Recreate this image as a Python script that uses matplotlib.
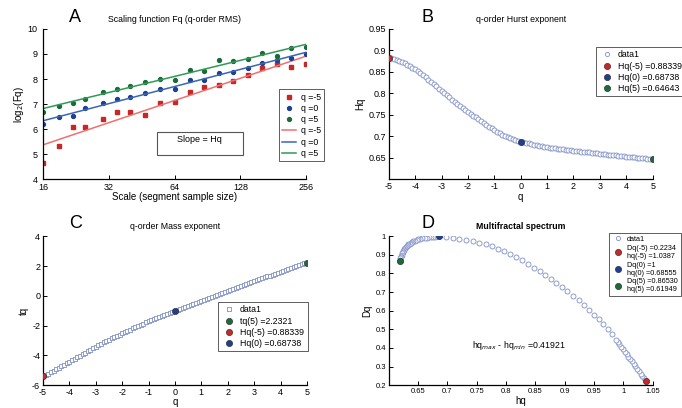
"""Multifractal DFA summary figure: scaling function, Hurst exponent, mass exponent, spectrum."""

import matplotlib
matplotlib.use("Agg")
import matplotlib.pyplot as plt
import numpy as np
from matplotlib.lines import Line2D
from matplotlib.patches import Rectangle

plt.rcParams["font.family"] = ["Liberation Sans", "DejaVu Sans"]
plt.rcParams["axes.unicode_minus"] = False  # plain hyphen minus, like the original

# ---- panel A: scaling function ----
scales = [16, 19, 22, 25, 30, 35, 40, 47, 55, 64, 75, 87, 102, 118, 138, 161, 188, 219, 256]
logfq_qm5 = [4.65, 5.32, 6.10, 6.10, 6.40, 6.67, 6.68, 6.57, 7.05, 7.08, 7.47, 7.70, 7.75,
             7.93, 8.17, 8.43, 8.60, 8.47, 8.60]
logfq_q0 = [6.20, 6.47, 6.52, 6.83, 7.03, 7.20, 7.30, 7.43, 7.60, 7.60, 7.97, 7.97, 8.23,
            8.30, 8.44, 8.64, 8.77, 8.84, 9.00]
logfq_q5 = [6.70, 6.93, 7.03, 7.20, 7.50, 7.60, 7.73, 7.90, 8.00, 7.97, 8.37, 8.34, 8.77,
            8.70, 8.80, 9.04, 8.90, 9.24, 9.28]

# ---- panel B / C: Hurst and mass exponents over q ----
q = np.linspace(-5, 5, 101)
hurst = [0.8834, 0.8816, 0.8796, 0.8774, 0.8750, 0.8724, 0.8696, 0.8666, 0.8634, 0.8600,
         0.8564, 0.8519, 0.8471, 0.8421, 0.8370, 0.8318, 0.8265, 0.8212, 0.8159, 0.8106,
         0.8054, 0.8003, 0.7953, 0.7904, 0.7855, 0.7807, 0.7759, 0.7712, 0.7665, 0.7619,
         0.7573, 0.7527, 0.7482, 0.7438, 0.7394, 0.7351, 0.7308, 0.7266, 0.7224, 0.7183,
         0.7143, 0.7105, 0.7069, 0.7036, 0.7005, 0.6977, 0.6952, 0.6929, 0.6908, 0.6890,
         0.6874, 0.6859, 0.6845, 0.6831, 0.6818, 0.6805, 0.6792, 0.6780, 0.6768, 0.6756,
         0.6744, 0.6735, 0.6727, 0.6719, 0.6711, 0.6703, 0.6695, 0.6687, 0.6679, 0.6671,
         0.6664, 0.6657, 0.6650, 0.6642, 0.6635, 0.6628, 0.6621, 0.6613, 0.6606, 0.6599,
         0.6592, 0.6585, 0.6579, 0.6572, 0.6566, 0.6559, 0.6552, 0.6546, 0.6539, 0.6533,
         0.6526, 0.6520, 0.6514, 0.6508, 0.6501, 0.6495, 0.6489, 0.6483, 0.6477, 0.6470,
         0.6464]
mass = [-5.417, -5.320, -5.222, -5.124, -5.025, -4.926, -4.826, -4.726, -4.626, -4.526,
        -4.426, -4.322, -4.219, -4.116, -4.013, -3.911, -3.810, -3.710, -3.611, -3.513,
        -3.416, -3.321, -3.227, -3.134, -3.042, -2.952, -2.862, -2.774, -2.686, -2.600,
        -2.515, -2.430, -2.347, -2.264, -2.183, -2.103, -2.023, -1.945, -1.867, -1.790,
        -1.714, -1.639, -1.566, -1.493, -1.420, -1.349, -1.278, -1.208, -1.138, -1.069,
        -1.000, -0.931, -0.863, -0.795, -0.727, -0.660, -0.592, -0.525, -0.459, -0.392,
        -0.326, -0.259, -0.193, -0.127, -0.060, 0.005, 0.071, 0.137, 0.202, 0.267,
        0.333, 0.398, 0.463, 0.528, 0.592, 0.657, 0.721, 0.786, 0.850, 0.914,
        0.978, 1.041, 1.105, 1.169, 1.232, 1.296, 1.359, 1.422, 1.485, 1.548,
        1.610, 1.673, 1.736, 1.798, 1.860, 1.923, 1.985, 2.047, 2.109, 2.170,
        2.232]

# ---- panel D: multifractal spectrum ----
spec_hq = [1.03870, 1.0357, 1.0326, 1.0296, 1.0266, 1.0236, 1.0205, 1.0175, 1.0145, 1.0115,
           1.0085, 1.0054, 1.0024, 0.9994, 0.9964, 0.9933, 0.9903, 0.9873, 0.9799, 0.9731,
           0.9656, 0.9582, 0.9497, 0.9417, 0.9325, 0.9240, 0.9143, 0.9046, 0.8954, 0.8857,
           0.8772, 0.8669, 0.8572, 0.8475, 0.8372, 0.8275, 0.8172, 0.8070, 0.7973, 0.7858,
           0.7761, 0.7659, 0.7545, 0.7430, 0.7316, 0.7202, 0.7088, 0.6974, 0.68555,
           0.6820, 0.6785, 0.6750, 0.6715, 0.6680, 0.6645, 0.6610, 0.6575, 0.6540, 0.6507,
           0.6476, 0.6447, 0.6420, 0.6396, 0.6374, 0.6354, 0.6336, 0.6320, 0.6305, 0.6291,
           0.6278, 0.6266, 0.6255, 0.6245, 0.6236, 0.6227, 0.6219, 0.6211, 0.6204, 0.6199,
           0.6196, 0.61949]
spec_dq = [0.2234, 0.2364, 0.2495, 0.2625, 0.2756, 0.2886, 0.3017, 0.3147, 0.3278, 0.3408,
           0.3539, 0.3669, 0.3800, 0.3930, 0.4061, 0.4191, 0.4322, 0.4452, 0.4739, 0.5007,
           0.5276, 0.5544, 0.5795, 0.6063, 0.6296, 0.6565, 0.6797, 0.7048, 0.7281, 0.7495,
           0.7728, 0.7925, 0.8140, 0.8319, 0.8534, 0.8713, 0.8892, 0.9071, 0.9214, 0.9339,
           0.9464, 0.9572, 0.9661, 0.9751, 0.9822, 0.9876, 0.9930, 0.9966, 1.0000,
           0.9995, 0.9985, 0.9972, 0.9958, 0.9942, 0.9923, 0.9902, 0.9880, 0.9855, 0.9826,
           0.9795, 0.9762, 0.9726, 0.9688, 0.9648, 0.9606, 0.9562, 0.9516, 0.9468, 0.9418,
           0.9366, 0.9312, 0.9256, 0.9198, 0.9138, 0.9076, 0.9012, 0.8946, 0.8878, 0.8808,
           0.8731, 0.8653]

RED, BLUE, GREEN = "#c62828", "#1f3f8f", "#1b6b38"
OPEN = "#7f8fc6"
TICK_FS = 6.5

fig = plt.figure(figsize=(6.82, 4.08), dpi=100, facecolor="white")


def style(ax):
    for side in ("top", "right"):
        ax.spines[side].set_visible(False)
    ax.tick_params(direction="in", length=3, width=0.7, labelsize=TICK_FS, pad=2)
    for side in ("left", "bottom"):
        ax.spines[side].set_linewidth(0.9)


def legend(ax, handles, labels, anchor, fs=6.3):
    lg = ax.legend(handles, labels, loc="upper left", bbox_to_anchor=anchor,
                   bbox_transform=fig.transFigure, fontsize=fs, fancybox=False,
                   edgecolor="#444444", framealpha=1, borderpad=0.4, labelspacing=0.25,
                   handlelength=1.6, handletextpad=0.5, borderaxespad=0)
    lg.get_frame().set_linewidth(0.6)
    return lg


def dot(color, ms=4.5):
    return Line2D([], [], ls="none", marker="o", ms=ms, mfc=color, mec="#222222", mew=0.4)


# ---- A ----
ax = fig.add_axes([0.063, 0.561, 0.386, 0.368])
style(ax)
ax.tick_params(axis="y", pad=4)
ax.tick_params(axis="x", pad=3)
ax.set_xscale("log", base=2)
pts, fits = [], []
for vals, col, lcol, mk in [(logfq_qm5, RED, "#f07070", "s"), (logfq_q0, BLUE, "#3a66b8", "o"),
                            (logfq_q5, GREEN, "#2f9a55", "o")]:
    ax.plot(scales, vals, ls="none", marker=mk, ms=2.8, color=col)
    slope, icpt = np.polyfit(np.log2(scales), vals, 1)
    ax.plot(scales, slope * np.log2(scales) + icpt, color=lcol, lw=1.1)
    pts.append(Line2D([], [], ls="none", marker=mk, ms=2.8, color=col))
    fits.append(Line2D([], [], color=lcol, lw=1.1))
ax.set_xlim(16, 256)
ax.set_ylim(4, 10)
ax.set_xticks([16, 32, 64, 128, 256])
ax.set_xticklabels(["16", "32", "64", "128", "256"])
ax.set_yticks(range(4, 11))
ax.minorticks_off()
ax.set_xlabel("Scale (segment sample size)", fontsize=7, labelpad=0)
ax.set_ylabel("log$_2$(Fq)", fontsize=7, labelpad=1)
ax.set_title("Scaling function Fq (q-order RMS)", fontsize=6.3, pad=5)
legend(ax, pts + fits, ["q =-5", "q =0", "q =5", "q =-5", "q =0", "q =5"], (0.409, 0.781))
fig.patches.append(Rectangle((0.230, 0.620), 0.126, 0.056, transform=fig.transFigure,
                             facecolor="white", edgecolor="#555555", lw=0.8))
fig.text(0.293, 0.657, "Slope = Hq", fontsize=6.5, ha="center", va="center")

# ---- B ----
ax = fig.add_axes([0.570, 0.561, 0.387, 0.368])
style(ax)
ax.scatter(q, hurst, s=13, facecolors="white", edgecolors=OPEN, linewidths=0.6, zorder=2)
for i, col in [(0, RED), (50, BLUE), (100, GREEN)]:
    ax.plot(q[i], hurst[i], "o", ms=4.5, mfc=col, mec="#222222", mew=0.4, zorder=3)
ax.set_xlim(-5, 5)
ax.set_ylim(0.6, 0.95)
ax.set_xticks(range(-5, 6))
ax.set_yticks([0.65, 0.7, 0.75, 0.8, 0.85, 0.9, 0.95])
ax.set_yticklabels(["0.65", "0.7", "0.75", "0.8", "0.85", "0.9", "0.95"])
ax.set_xlabel("q", fontsize=7, labelpad=1)
ax.set_ylabel("Hq", fontsize=7, labelpad=2)
ax.set_title("q-order Hurst exponent", fontsize=6.3, pad=5)
open_h = Line2D([], [], ls="none", marker="o", ms=3, mfc="white", mec=OPEN, mew=0.6)
legend(ax, [open_h, dot(RED), dot(BLUE), dot(GREEN)],
       ["data1", "Hq(-5) =0.88339", "Hq(0) =0.68738", "Hq(5) =0.64643"], (0.874, 0.885))

# ---- C ----
ax = fig.add_axes([0.063, 0.056, 0.387, 0.365])
style(ax)
ax.scatter(q, mass, s=11, marker="s", facecolors="white", edgecolors=OPEN, linewidths=0.6, zorder=2)
for i, col in [(0, RED), (50, BLUE), (100, GREEN)]:
    ax.plot(q[i], mass[i], "o", ms=4.5, mfc=col, mec="#222222", mew=0.4, zorder=3)
ax.set_xlim(-5, 5)
ax.set_ylim(-6, 4)
ax.set_xticks(range(-5, 6))
ax.set_yticks(range(-6, 5, 2))
ax.set_xlabel("q", fontsize=7, labelpad=0)
ax.set_ylabel("tq", fontsize=7, labelpad=2)
ax.set_title("q-order Mass exponent", fontsize=6.3, pad=5)
open_t = Line2D([], [], ls="none", marker="s", ms=2.5, mfc="white", mec=OPEN, mew=0.6)
legend(ax, [open_t, dot(GREEN), dot(RED), dot(BLUE)],
       ["data1", "tq(5) =2.2321", "Hq(-5) =0.88339", "Hq(0) =0.68738"], (0.320, 0.260))

# ---- D ----
ax = fig.add_axes([0.570, 0.056, 0.387, 0.365])
style(ax)
ax.scatter(spec_hq, spec_dq, s=13, facecolors="white", edgecolors=OPEN, linewidths=0.6, zorder=2)
for i, col in [(0, RED), (48, BLUE), (-1, GREEN)]:
    ax.plot(spec_hq[i], spec_dq[i], "o", ms=4.5, mfc=col, mec="#222222", mew=0.4, zorder=3)
ax.set_xlim(0.6, 1.05)
ax.set_ylim(0.2, 1.0)
ax.set_xticks([0.65, 0.7, 0.75, 0.8, 0.85, 0.9, 0.95, 1.0, 1.05])
ax.set_xticklabels(["0.65", "0.7", "0.75", "0.8", "0.85", "0.9", "0.95", "1", "1.05"])
ax.set_yticks([0.2, 0.3, 0.4, 0.5, 0.6, 0.7, 0.8, 0.9, 1.0])
ax.set_yticklabels(["0.2", "0.3", "0.4", "0.5", "0.6", "0.7", "0.8", "0.9", "1"])
ax.tick_params(labelsize=5.5)
ax.set_xlabel("hq", fontsize=7, labelpad=1)
ax.set_ylabel("Dq", fontsize=7, labelpad=2)
ax.set_title("Multifractal spectrum", fontsize=6.3, pad=5, fontweight="bold")
width = max(spec_hq) - min(spec_hq)
ax.text(0.742, 0.415, f"hq$_{{max}}$ - hq$_{{min}}$ ={width:.5f}", fontsize=6.3, ha="left", va="center")
legend(ax, [open_h, dot(RED), dot(BLUE), dot(GREEN)],
       ["data1", "Dq(-5) =0.2234\nhq(-5) =1.0387", "Dq(0) =1\nhq(0) =0.68555",
        "Dq(5) =0.86530\nhq(5) =0.61949"], (0.893, 0.429), fs=5.2)

for letter, x, y in [("A", 0.110, 0.958), ("B", 0.627, 0.958), ("C", 0.111, 0.453), ("D", 0.627, 0.453)]:
    fig.text(x, y, letter, fontsize=13, ha="center", va="center")

fig.savefig("out.png", dpi=100, facecolor="white")
